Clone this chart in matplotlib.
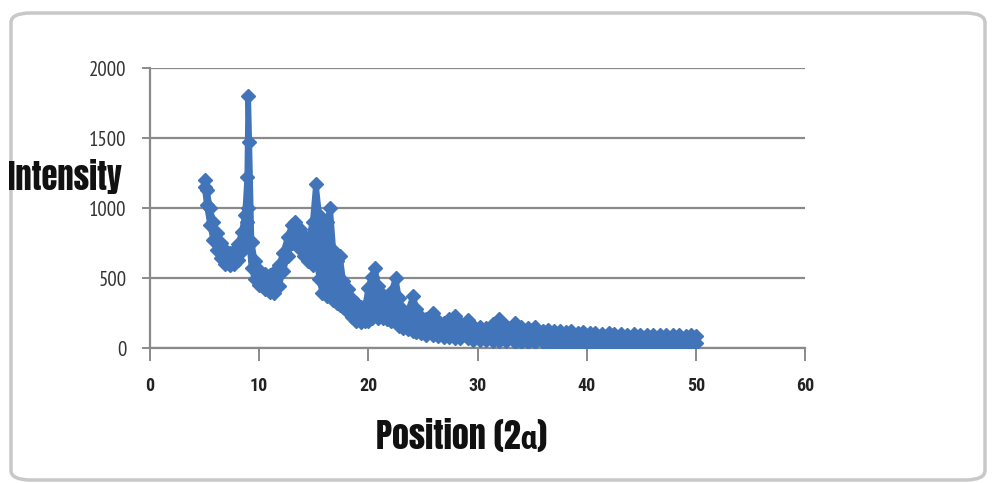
import matplotlib
matplotlib.use('Agg')
import matplotlib.pyplot as plt
from matplotlib.patches import FancyBboxPatch

# 读图估计的数据：位置 (2a) 与强度带的上沿/下沿（标记中心）
position = [5.0, 5.2, 5.5, 5.8, 6.1, 6.5, 6.9, 7.3, 7.7, 8.1, 8.4, 8.7, 8.9, 9.0,
            9.1, 9.3, 9.6, 10.0, 10.5, 11.0, 11.4, 11.8, 12.2, 12.6, 13.0, 13.3,
            13.7, 14.1, 14.5, 14.9, 15.2, 15.5, 15.8, 16.2, 16.5, 16.8, 17.1,
            17.4, 17.7, 18.1, 18.5, 18.9, 19.3, 19.7, 20.0, 20.3, 20.6, 20.9,
            21.3, 21.7, 22.1, 22.5, 22.8, 23.2, 23.6, 24.1, 24.4, 24.8, 25.3,
            25.9, 26.4, 26.9, 27.4, 27.9, 28.4, 29.1, 29.6, 30.2, 30.8, 31.4,
            32.0, 32.6, 33.4, 34.0, 34.6, 35.3, 36.0, 36.5, 37.0, 37.6, 38.1,
            38.6, 39.2, 39.7, 40.3, 40.8, 41.4, 42.0, 42.5, 43.1, 43.7, 44.3,
            44.9, 45.5, 46.1, 46.7, 47.3, 47.9, 48.5, 49.1, 49.6, 50.0]
intensity_hi = [1200, 1130, 1000, 900, 820, 750, 700, 680, 690, 740, 830, 950, 1220, 1800,
                1470, 760, 620, 560, 530, 520, 540, 590, 680, 790, 880, 900,
                850, 800, 780, 900, 1170, 950, 800, 900, 1000, 700, 620,
                660, 480, 420, 350, 320, 290, 300, 430, 510, 570, 440,
                380, 360, 400, 500, 360, 270, 260, 370, 280, 220, 210,
                250, 190, 180, 210, 230, 180, 200, 160, 150, 140, 170,
                210, 160, 180, 150, 140, 150, 125, 130, 120, 125, 115,
                120, 110, 115, 105, 110, 100, 105, 100, 100, 95, 100,
                95, 95, 90, 95, 90, 90, 90, 85, 90, 85]
intensity_lo = [1150, 1020, 880, 770, 700, 640, 600, 590, 600, 630, 690, 770, 900, 1000,
                740, 570, 490, 450, 420, 400, 390, 440, 550, 660, 750, 780,
                710, 660, 620, 590, 690, 490, 390, 370, 370, 340, 320,
                310, 290, 260, 220, 195, 185, 190, 195, 215, 235, 215,
                215, 205, 195, 195, 160, 145, 135, 125, 115, 105, 95,
                90, 85, 80, 80, 75, 70, 70, 60, 60, 55, 50,
                50, 50, 45, 40, 40, 40, 40, 35, 35, 35, 35,
                35, 30, 30, 30, 30, 30, 30, 30, 30, 30, 30,
                30, 30, 30, 30, 30, 30, 30, 30, 30, 35]

x_ticks = [0, 10, 20, 30, 40, 50, 60]
y_ticks = [0, 500, 1000, 1500, 2000]

BLUE = '#4174B8'
GRID = '#8a8a8a'
TITLE_FONT = ['Anton', 'Roboto Condensed']

fig = plt.figure(figsize=(9.92, 4.83), dpi=100)
fig.patch.set_facecolor('white')

# 外框：圆角浅灰边
frame = FancyBboxPatch((11 / 992, 3 / 483), 974 / 992, 467 / 483,
                       boxstyle='round,pad=0,rounding_size=0.02',
                       transform=fig.transFigure, facecolor='none',
                       edgecolor='#c8c8c8', lw=2.5)
fig.patches.append(frame)

ax = fig.add_axes([150 / 992, 135 / 483, 655 / 992, 280 / 483])
ax.fill_between(position, intensity_lo, intensity_hi, color=BLUE, lw=0, zorder=3)
for series in (intensity_hi, intensity_lo):
    ax.plot(position, series, color=BLUE, lw=4, marker='D', ms=7.5,
            mec=BLUE, mfc=BLUE, zorder=4)

ax.set_xlim(0, 60)
ax.set_ylim(0, 2000)
ax.set_xticks(x_ticks)
ax.set_yticks(y_ticks)
ax.set_xticklabels([str(t) for t in x_ticks], family='Roboto Condensed',
                   fontweight='bold', fontsize=13, color='#222222')
ax.set_yticklabels([str(t) for t in y_ticks], family='PT Sans Narrow', fontsize=15,
                   color='#333333')
ax.grid(axis='y', color=GRID, lw=1.6, zorder=0)
ax.set_axisbelow(True)
for side in ('top', 'right'):
    ax.spines[side].set_visible(False)
for side in ('left', 'bottom'):
    ax.spines[side].set_color(GRID)
    ax.spines[side].set_linewidth(1.6)
ax.tick_params(axis='x', direction='out', length=9, width=1.4, color=GRID, pad=12)
ax.tick_params(axis='y', direction='out', length=6, width=1.4, color=GRID, pad=11)

fig.text(8 / 992, 1 - 176 / 483, 'Intensity', family=TITLE_FONT, fontweight='heavy',
         fontsize=23.5, ha='left', va='center', color='#111111')
fig.text(462 / 992, 1 - 436 / 483, 'Position (2α)', family=TITLE_FONT,
         fontweight='heavy', fontsize=24.5, ha='center', va='center', color='#111111')

fig.savefig('out.png', dpi=100)
